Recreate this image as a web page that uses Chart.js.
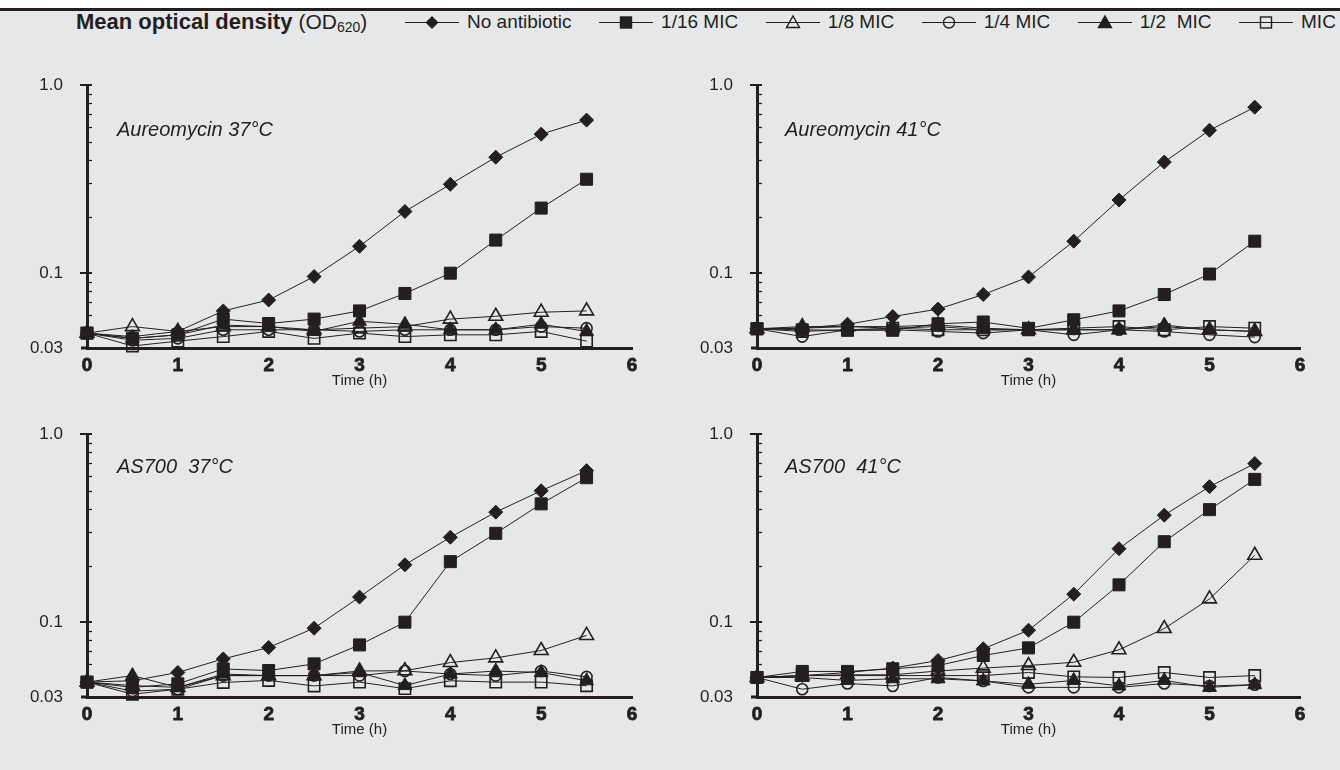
<!DOCTYPE html>
<html>
<head>
<meta charset="utf-8">
<script src="https://cdn.jsdelivr.net/npm/chart.js@4.4.1/dist/chart.umd.min.js"></script>
<style>
  body { margin:0; width:1340px; height:770px; background:#e6e7e8; position:relative; overflow:hidden;
         font-family:"Liberation Sans", Arial, sans-serif; color:#231f20; }
  #topbar { position:absolute; left:0; top:0; width:1340px; height:8px; background:#fff; border-bottom:3px solid #231f20; }
  .panel { position:absolute; }
  .ptitle { position:absolute; font-style:italic; font-size:20px; white-space:pre; }
  #ytitle { position:absolute; left:76px; top:9px; font-size:22px; font-weight:bold; white-space:nowrap; }
  #ytitle span { font-weight:normal; font-size:21px; }
  #ytitle sub { font-size:14px; vertical-align:-3px; }
  #legend { position:absolute; left:405px; top:9px; height:26px; display:flex; align-items:center; }
  .leg { display:flex; align-items:center; white-space:pre; font-size:19px; margin-right:27.5px; }
  .leg svg { margin-right:8px; }
</style>
</head>
<body>
<div id="topbar"></div>
<div id="ytitle">Mean optical density <span>(OD<sub>620</sub>)</span></div>
<div id="legend"></div>

<div class="panel" style="left:0;top:51px"><canvas id="c0" width="660" height="349"></canvas></div>
<div class="panel" style="left:670px;top:51px"><canvas id="c1" width="660" height="349"></canvas></div>
<div class="panel" style="left:0;top:400px"><canvas id="c2" width="660" height="349"></canvas></div>
<div class="panel" style="left:670px;top:400px"><canvas id="c3" width="660" height="349"></canvas></div>

<div class="ptitle" style="left:117px;top:118px">Aureomycin 37°C</div>
<div class="ptitle" style="left:785px;top:118px">Aureomycin 41°C</div>
<div class="ptitle" style="left:117px;top:455px">AS700  37°C</div>
<div class="ptitle" style="left:785px;top:455px">AS700  41°C</div>

<script>
//DATA
var hours = [0, 0.5, 1, 1.5, 2, 2.5, 3, 3.5, 4, 4.5, 5, 5.5];
var seriesNames = ['No antibiotic', '1/16 MIC', '1/8 MIC', '1/4 MIC', '1/2  MIC', 'MIC'];
var xTicks = [0, 1, 2, 3, 4, 5, 6];
var yTickValues = [0.04, 0.1, 1.0];
var yTickLabels = ['0.03', '0.1', '1.0'];
var yMinorTicks = [0.05, 0.06, 0.07, 0.08, 0.09, 0.2, 0.3, 0.4, 0.5, 0.6, 0.7, 0.8, 0.9];

//>>Aureomycin 37°C
var aur37NoAb = [0.048, 0.046, 0.049, 0.063, 0.072, 0.096, 0.139, 0.213, 0.297, 0.414, 0.549, 0.652];
var aur37M16  = [0.048, 0.045, 0.047, 0.057, 0.054, 0.057, 0.063, 0.078, 0.10, 0.150, 0.222, 0.316];
var aur37M8   = [0.048, 0.052, 0.049, 0.052, 0.052, 0.050, 0.051, 0.052, 0.057, 0.059, 0.062, 0.063];
var aur37M4   = [0.048, 0.044, 0.045, 0.050, 0.050, 0.050, 0.049, 0.050, 0.050, 0.050, 0.052, 0.051];
var aur37M2   = [0.048, 0.045, 0.047, 0.053, 0.052, 0.049, 0.0555, 0.0535, 0.050, 0.050, 0.0535, 0.049];
var aur37Mic  = [0.048, 0.041, 0.0435, 0.046, 0.049, 0.045, 0.048, 0.046, 0.047, 0.047, 0.049, 0.0435];

//>>Aureomycin 41°C
var aur41NoAb = [0.0506, 0.051, 0.0535, 0.0588, 0.0644, 0.077, 0.0955, 0.148, 0.245, 0.39, 0.576, 0.764];
var aur41M16  = [0.0506, 0.050, 0.0497, 0.0497, 0.0538, 0.055, 0.0509, 0.0565, 0.063, 0.077, 0.099, 0.148];
var aur41M8   = [0.0506, 0.052, 0.052, 0.052, 0.053, 0.051, 0.050, 0.050, 0.050, 0.052, 0.050, 0.049];
var aur41M4   = [0.0506, 0.046, 0.050, 0.050, 0.049, 0.048, 0.050, 0.047, 0.050, 0.049, 0.047, 0.0457];
var aur41M2   = [0.0506, 0.051, 0.052, 0.051, 0.052, 0.050, 0.050, 0.050, 0.050, 0.053, 0.050, 0.049];
var aur41Mic  = [0.0506, 0.049, 0.050, 0.051, 0.050, 0.050, 0.050, 0.051, 0.052, 0.050, 0.052, 0.051];

//>>AS700 37°C
var as37NoAb = [0.048, 0.0488, 0.054, 0.0638, 0.0734, 0.0929, 0.136, 0.202, 0.283, 0.385, 0.50, 0.64];
var as37M16  = [0.048, 0.045, 0.047, 0.0564, 0.0553, 0.060, 0.0757, 0.10, 0.21, 0.297, 0.426, 0.587];
var as37M8   = [0.048, 0.046, 0.045, 0.052, 0.052, 0.052, 0.055, 0.0552, 0.061, 0.0646, 0.0707, 0.085];
var as37M4   = [0.048, 0.043, 0.044, 0.052, 0.052, 0.052, 0.052, 0.055, 0.053, 0.052, 0.055, 0.0512];
var as37M2   = [0.048, 0.052, 0.045, 0.053, 0.052, 0.052, 0.054, 0.046, 0.053, 0.055, 0.054, 0.0488];
var as37Mic  = [0.048, 0.0414, 0.044, 0.0478, 0.049, 0.0458, 0.048, 0.0443, 0.0488, 0.048, 0.048, 0.0459];

//>>AS700 41°C
var as41NoAb = [0.0508, 0.052, 0.054, 0.057, 0.0625, 0.0722, 0.0906, 0.141, 0.246, 0.371, 0.526, 0.698];
var as41M16  = [0.0508, 0.0547, 0.0547, 0.0565, 0.0588, 0.0665, 0.073, 0.10, 0.158, 0.268, 0.397, 0.575];
var as41M8   = [0.0508, 0.052, 0.0525, 0.0525, 0.055, 0.057, 0.0588, 0.0612, 0.0713, 0.0925, 0.133, 0.227];
var as41M4   = [0.0508, 0.044, 0.0472, 0.0458, 0.0508, 0.0487, 0.045, 0.045, 0.045, 0.0472, 0.0458, 0.0465];
var as41M2   = [0.0508, 0.0508, 0.049, 0.050, 0.050, 0.0487, 0.0467, 0.049, 0.0458, 0.049, 0.045, 0.0465];
var as41Mic  = [0.0508, 0.052, 0.052, 0.052, 0.052, 0.052, 0.054, 0.0512, 0.0508, 0.054, 0.0508, 0.052];

var panels = [
  [aur37NoAb, aur37M16, aur37M8, aur37M4, aur37M2, aur37Mic],
  [aur41NoAb, aur41M16, aur41M8, aur41M4, aur41M2, aur41Mic],
  [as37NoAb, as37M16, as37M8, as37M4, as37M2, as37Mic],
  [as41NoAb, as41M16, as41M8, as41M4, as41M2, as41Mic]
];

//STYLE
var ink = '#231f20';
var markers = [
  {style: 'rectRot', r: 7, filled: true},
  {style: 'rect', r: 8.5, filled: true},
  {style: 'triangle', r: 8, filled: false},
  {style: 'circle', r: 5.5, filled: false},
  {style: 'triangle', r: 8, filled: true},
  {style: 'rect', r: 8, filled: false}
];
var padRight = [28, 30, 28, 30];

//y axis ticks: minor ticks inside, major ticks across
var axisTicks = {
  id: 'axisTicks',
  afterDraw: function(chart) {
    var ctx = chart.ctx, ys = chart.scales.y, a = chart.chartArea;
    ctx.save();
    ctx.strokeStyle = ink;
    ctx.lineWidth = 1.3;
    yMinorTicks.forEach(function(v) {
      var p = Math.round(ys.getPixelForValue(v)) + 0.5;
      ctx.beginPath(); ctx.moveTo(a.left, p); ctx.lineTo(a.left + 5, p); ctx.stroke();
    });
    ctx.lineWidth = 2;
    [0.1, 1.0].forEach(function(v) {
      var p = Math.round(ys.getPixelForValue(v));
      ctx.beginPath(); ctx.moveTo(a.left - 7, p); ctx.lineTo(a.left + 5, p); ctx.stroke();
    });
    //x axis runs a little past the y axis
    ctx.lineWidth = 3;
    ctx.beginPath(); ctx.moveTo(a.left - 6, a.bottom); ctx.lineTo(a.left, a.bottom); ctx.stroke();
    ctx.restore();
  }
};

function makeDatasets(list) {
  return list.map(function(vals, i) {
    var m = markers[i];
    return {
      label: seriesNames[i],
      data: hours.map(function(h, k) { return {x: h, y: vals[k]}; }),
      borderColor: ink,
      borderWidth: 1,
      pointStyle: m.style,
      pointRadius: m.r,
      pointBorderColor: ink,
      pointBorderWidth: m.filled ? 1 : 1.6,
      pointBackgroundColor: m.filled ? ink : 'rgba(0,0,0,0)',
      tension: 0,
      clip: false
    };
  });
}

panels.forEach(function(list, idx) {
  var ctx = document.getElementById('c' + idx).getContext('2d');
  new Chart(ctx, {
    type: 'line',
    data: { datasets: makeDatasets(list) },
    options: {
      responsive: false,
      animation: false,
      layout: { autoPadding: false, padding: {top: 20, left: 20, right: padRight[idx], bottom: 0} },
      plugins: { legend: {display: false}, tooltip: {enabled: false} },
      scales: {
        x: {
          type: 'linear', min: 0, max: 6,
          afterBuildTicks: function(s) { s.ticks = xTicks.map(function(v) { return {value: v}; }); },
          afterFit: function(s) { s.height = 52; },
          grid: {display: false, drawTicks: false},
          border: {color: ink, width: 3},
          ticks: {padding: 6, color: ink, textStrokeColor: ink, textStrokeWidth: 0.8,
                  font: {family: 'Liberation Sans', size: 19, weight: 'bold'}},
          title: {display: true, text: 'Time (h)', color: ink, font: {family: 'Liberation Sans', size: 15},
                  padding: {top: 0, bottom: 10}}
        },
        y: {
          type: 'logarithmic', min: yTickValues[0], max: yTickValues[2],
          afterBuildTicks: function(s) { s.ticks = yTickValues.map(function(v) { return {value: v}; }); },
          afterFit: function(s) { s.width = 67; },
          grid: {display: false, drawTicks: false},
          border: {color: ink, width: 3},
          ticks: {padding: 24, color: ink, autoSkip: false, font: {family: 'Liberation Sans', size: 17},
                  callback: function(v, i) { return yTickLabels[i]; }}
        }
      }
    },
    plugins: [axisTicks]
  });
});

//LEGEND
function markerSvg(m) {
  var fill = m.filled ? ink : 'none', s = '';
  if (m.style === 'rectRot') s = '<polygon points="27,6 33.5,12.5 27,19 20.5,12.5" fill="' + ink + '"/>';
  else if (m.style === 'rect') s = '<rect x="21.5" y="7" width="11" height="11" fill="' + fill + '" stroke="' + ink + '" stroke-width="1.4"/>';
  else if (m.style === 'triangle') s = '<polygon points="27,6 33.5,17.5 20.5,17.5" fill="' + fill + '" stroke="' + ink + '" stroke-width="1.4"/>';
  else s = '<circle cx="27" cy="12.5" r="5.5" fill="none" stroke="' + ink + '" stroke-width="1.4"/>';
  return '<svg width="54" height="25"><line x1="0" y1="12.5" x2="54" y2="12.5" stroke="' + ink + '" stroke-width="1.2"/>' + s + '</svg>';
}
var legendHtml = '';
seriesNames.forEach(function(name, i) {
  legendHtml += '<div class="leg">' + markerSvg(markers[i]) + name + '</div>';
});
document.getElementById('legend').innerHTML = legendHtml;
</script>
</body>
</html>
